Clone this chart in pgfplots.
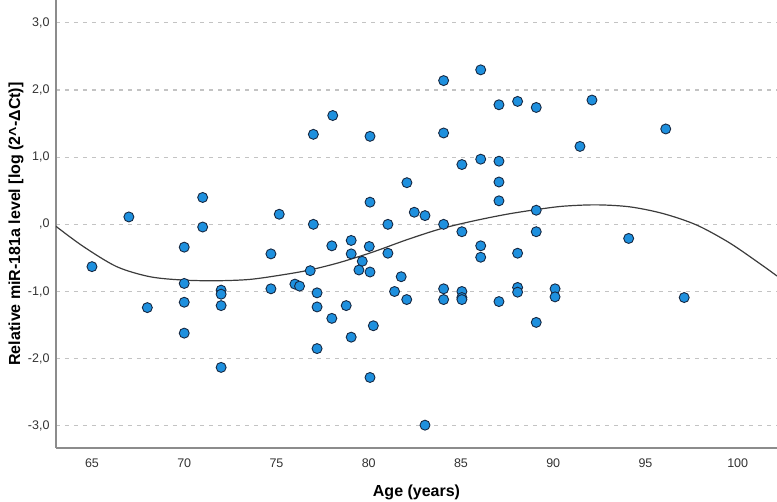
\documentclass[border=0pt]{standalone}
\usepackage{pgfplots}
\pgfplotsset{compat=1.18}
\usepackage{fontspec}
\setmainfont{Liberation Sans}
\definecolor{ptfill}{RGB}{30,144,222}
\definecolor{ptedge}{RGB}{22,40,66}
\definecolor{axgray}{RGB}{140,140,140}
\definecolor{gridgray}{RGB}{195,195,195}
\definecolor{fitgray}{RGB}{60,60,60}
\definecolor{ticktext}{RGB}{50,50,50}
\begin{document}
\begin{tikzpicture}
\begin{axis}[
  scale only axis,
  width=721pt, height=448pt,
  xmin=63.05, xmax=102.13,
  ymin=-3.33, ymax=3.34,
  axis x line=bottom, axis y line=left,
  axis line style={-, draw=axgray, line width=1.4pt},
  xtick={65,70,75,80,85,90,95,100},
  xticklabels={65,70,75,80,85,90,95,100},
  ytick={-3,-2,-1,0,1,2,3},
  yticklabels={{-3,0},{-2,0},{-1,0},{,0},{1,0},{2,0},{3,0}},
  major tick length=0pt,
  tick style={draw=none},
  ymajorgrids,
  grid style={draw=gridgray, line width=1.1pt, dash pattern=on 4pt off 5pt},
  ticklabel style={font=\fontsize{12.5}{14}\selectfont, text=ticktext},
  xticklabel style={anchor=center, yshift=-15pt},
  yticklabel style={anchor=east, xshift=-3pt},
  xlabel={Age (years)},
  ylabel={Relative miR-181a level [log (2\textasciicircum-ΔCt)]},
  label style={font=\bfseries\fontsize{16}{18}\selectfont, text=black},
  xlabel style={at={(axis description cs:0.5,0)}, anchor=center, yshift=-44pt},
  ylabel style={at={(axis description cs:0,0.5)}, anchor=center, yshift=40pt},
]
\addplot[smooth, draw=fitgray, line width=1.2pt, no marks] coordinates {
(63.05,-0.03) (64.53,-0.33) (66.34,-0.63) (68.14,-0.78) (69.95,-0.83)
(71.76,-0.84) (73.56,-0.82) (75.37,-0.75) (76.8,-0.68) (78.4,-0.57)
(80.25,-0.41) (82.06,-0.23) (83.86,-0.07) (85.67,0.05) (87.48,0.15)
(89.1,0.22) (90.55,0.27) (92.35,0.29) (94.16,0.26) (95.96,0.16)
(97.77,-0.01) (99.58,-0.28) (101.38,-0.62) (102.13,-0.77)
};
\addplot[only marks, mark=*, mark size=5pt,
  mark options={fill=ptfill, draw=ptedge, line width=0.9pt}] coordinates {
(65.0,-0.63) (67.0,0.11) (68.0,-1.24)
(70.0,-0.34) (70.0,-0.88) (70.0,-1.16) (70.0,-1.62)
(71.0,0.40) (71.0,-0.04)
(72.0,-0.98) (72.0,-1.04) (72.0,-1.21) (72.0,-2.13)
(74.7,-0.44) (74.7,-0.96) (75.15,0.15)
(76.0,-0.89) (76.25,-0.92) (76.83,-0.69)
(77.0,1.34) (77.0,0.0) (77.2,-1.02) (77.2,-1.23) (77.2,-1.85)
(78.05,1.62) (78.0,-0.32) (78.0,-1.40) (78.78,-1.21)
(79.05,-0.24) (79.05,-0.44) (79.05,-1.68) (79.65,-0.55) (79.47,-0.68)
(80.03,-0.33) (80.07,1.31) (80.07,0.33) (80.07,-0.71) (80.07,-2.28) (80.25,-1.51)
(81.04,0.0) (81.04,-0.43) (81.4,-1.00) (81.76,-0.78)
(82.06,-1.12) (82.07,0.62) (82.47,0.18)
(83.05,0.13) (83.05,-2.99)
(84.06,2.14) (84.06,1.36) (84.06,0.0) (84.06,-0.96) (84.06,-1.12)
(85.05,0.89) (85.05,-0.11) (85.05,-1.00) (85.05,-1.09) (85.05,-1.12)
(86.07,2.30) (86.07,0.97) (86.07,-0.32) (86.07,-0.49)
(87.06,1.78) (87.06,0.94) (87.06,0.63) (87.06,0.35) (87.06,-1.15)
(88.07,1.83) (88.07,-0.43) (88.07,-0.94) (88.07,-1.01)
(89.08,1.74) (89.08,0.21) (89.08,-0.11) (89.08,-1.46)
(90.1,-0.96) (90.1,-1.08)
(91.45,1.16) (92.1,1.85) (94.09,-0.21) (96.1,1.42) (97.1,-1.09)
};
\end{axis}
\pgfresetboundingbox
\path[use as bounding box] (-56pt,-54pt) rectangle (721pt,448pt);
\end{tikzpicture}
\end{document}
